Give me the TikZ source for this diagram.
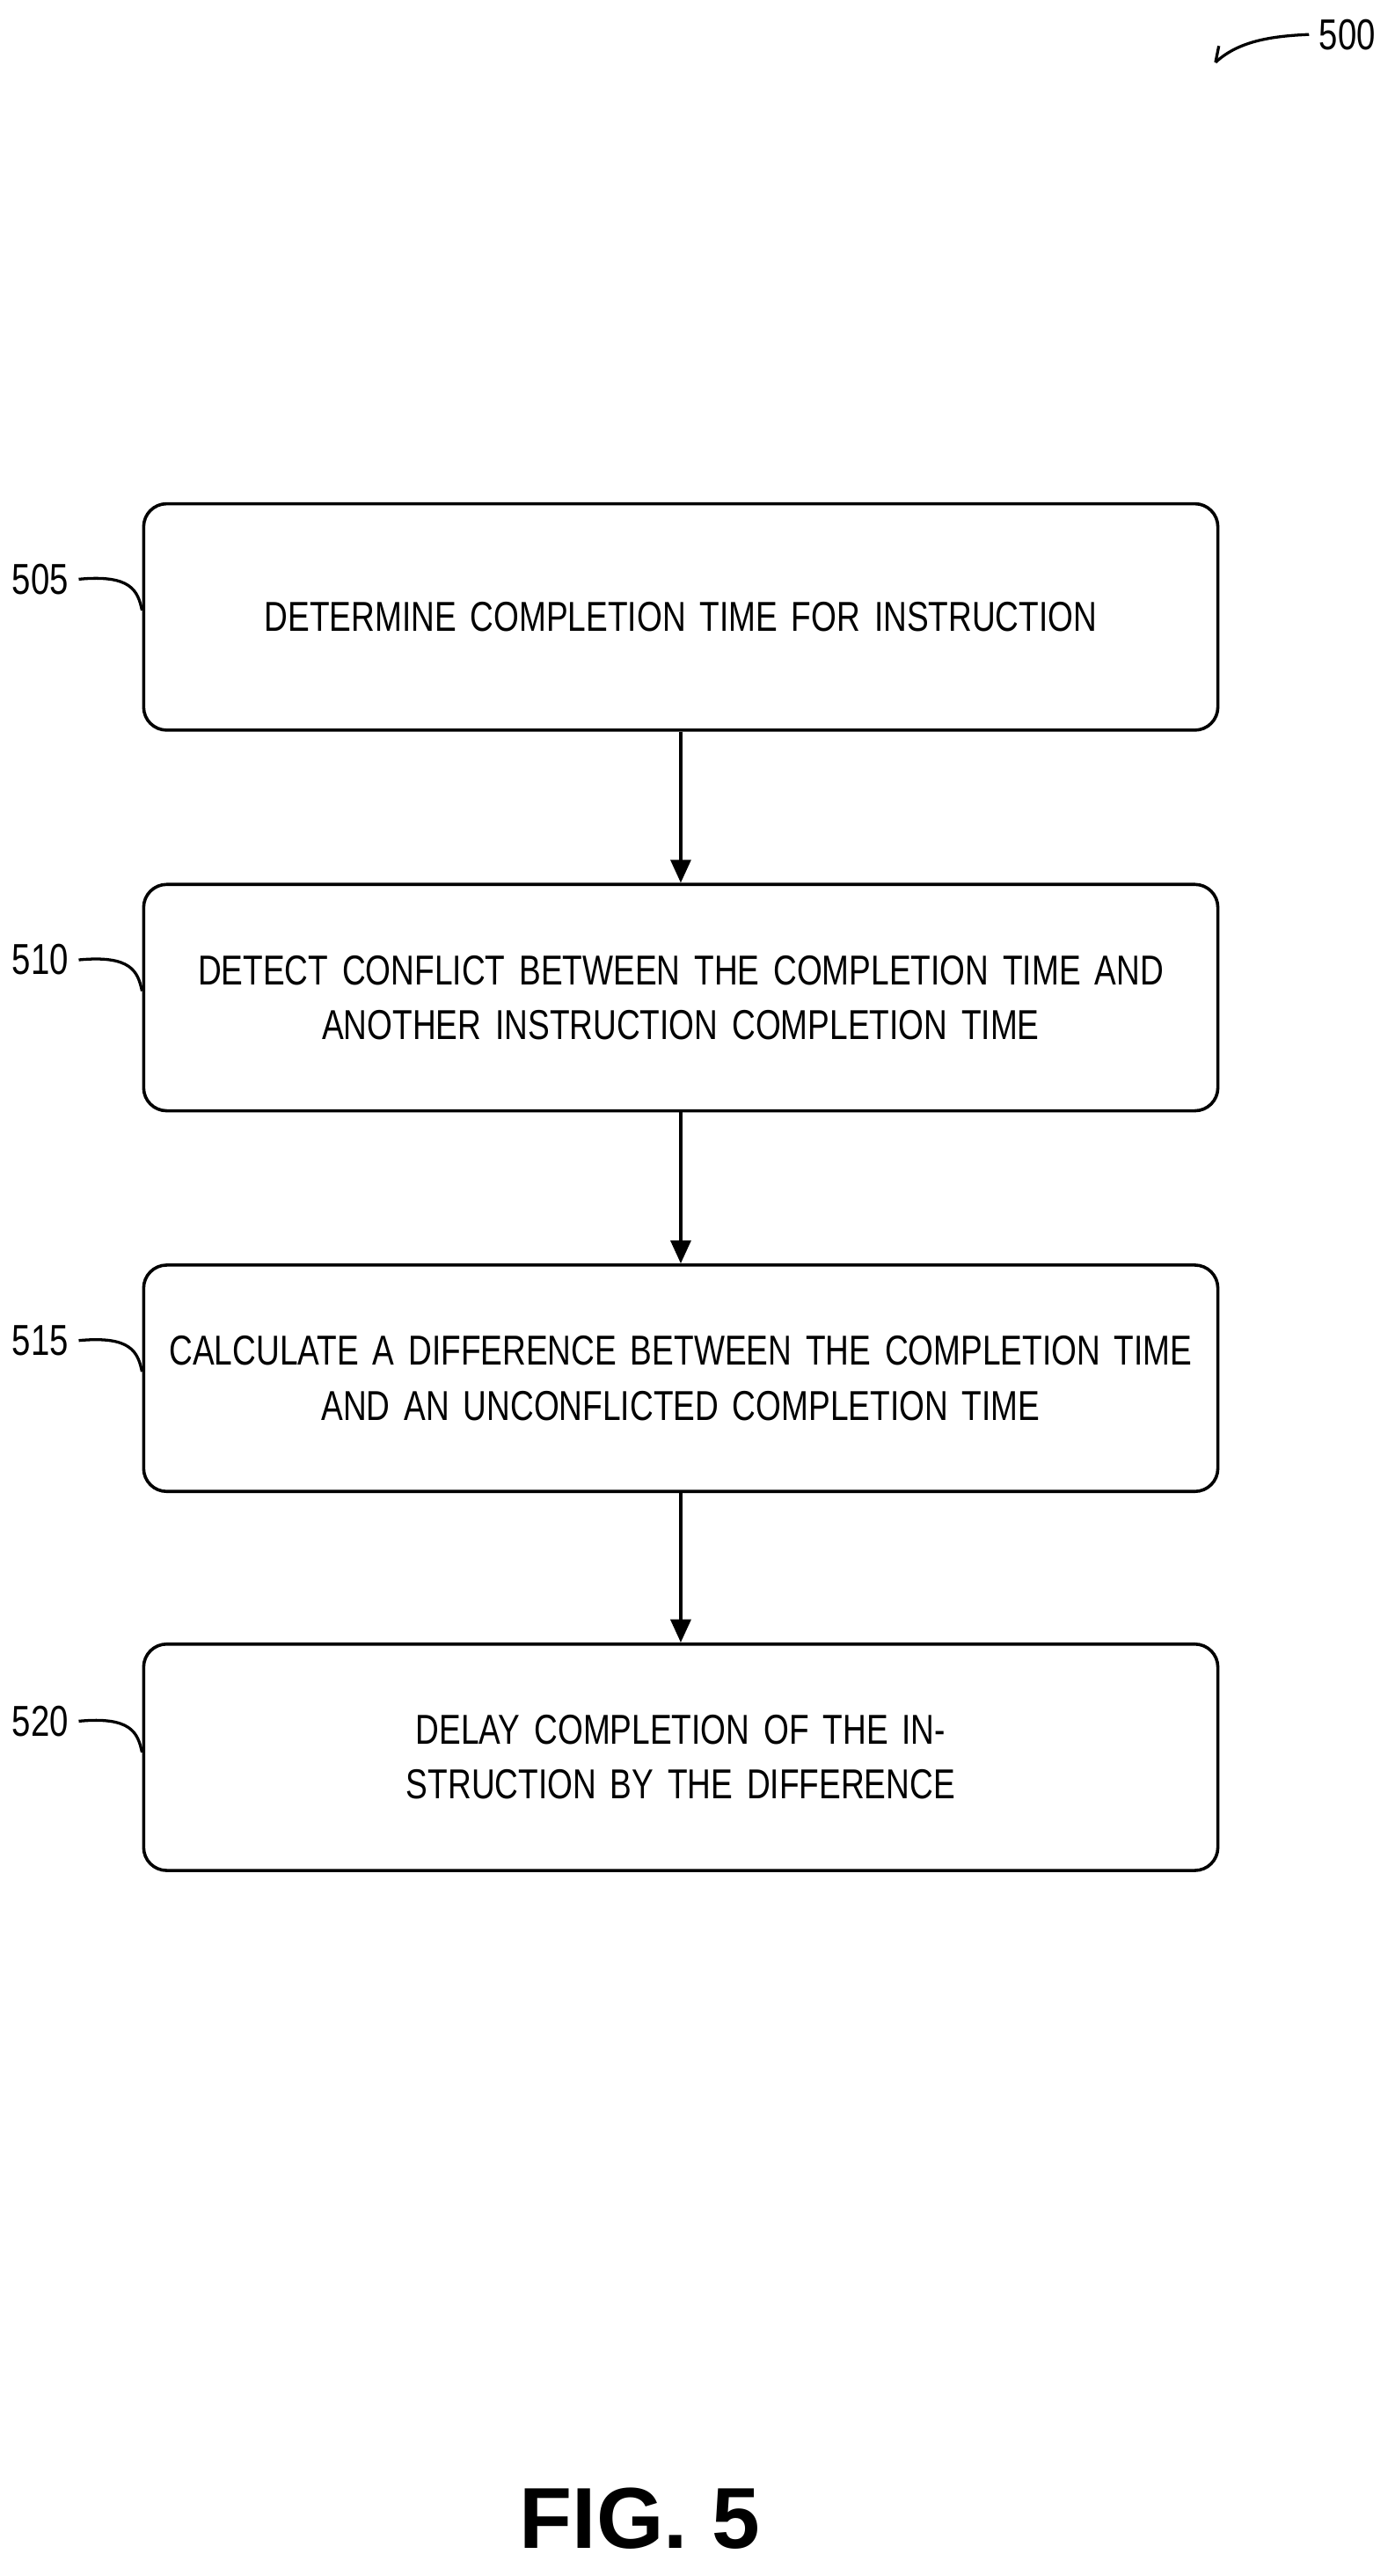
\documentclass[tikz,border=0pt]{standalone}
\usepackage{fontspec}
\setmainfont{Liberation Sans}[FakeStretch=0.78]
\usetikzlibrary{positioning,arrows.meta}

\begin{document}
\begin{tikzpicture}[
    x=0.02cm, y=-0.02cm,
    stepbox/.style={rectangle, rounded corners=8pt, draw, line width=1.1pt, minimum width=13.1cm, text width=12.9cm, inner xsep=1pt, minimum height=2.76cm, align=center, font=\fontsize{14.5}{19}\selectfont},
    num/.style={font=\fontsize{15}{18}\selectfont, anchor=east},
    lead/.style={line width=1pt},
    flow/.style={-{Triangle[length=8pt,width=7pt]}, line width=1.1pt}
]
\useasboundingbox (0,0) rectangle (850,1570);

% Steps
\node[stepbox] (determine) at (415,376) {DETERMINE COMPLETION TIME FOR INSTRUCTION};
\node[stepbox] (detect) at (415,608) {DETECT CONFLICT BETWEEN THE COMPLETION TIME AND\\ANOTHER INSTRUCTION COMPLETION TIME};
\node[stepbox] (calc) at (415,840) {CALCULATE A DIFFERENCE BETWEEN THE COMPLETION TIME\\AND AN UNCONFLICTED COMPLETION TIME};
\node[stepbox] (delay) at (415,1071) {DELAY COMPLETION OF THE INSTRUCTION BY THE DIFFERENCE};

% Reference numerals
\node[num] (n505) at (48,353) {505};
\node[num] (n510) at (48,585) {510};
\node[num] (n515) at (48,817) {515};
\node[num] (n520) at (48,1049) {520};
\draw[lead] (n505.east) .. controls (80,350) and (84,360) .. (determine.west |- 0,372);
\draw[lead] (n510.east) .. controls (80,582) and (84,592) .. (detect.west |- 0,604);
\draw[lead] (n515.east) .. controls (80,814) and (84,824) .. (calc.west |- 0,836);
\draw[lead] (n520.east) .. controls (80,1046) and (84,1056) .. (delay.west |- 0,1068);

% Figure numeral
\node[font=\fontsize{15}{18}\selectfont, anchor=west] (n500) at (798,21) {500};
\coordinate (tip) at (741,38);
\draw[lead] (n500.west) .. controls (775,22) and (755,25) .. (tip);
\draw[lead] (tip) -- ++(2,-10);

% Flow
\draw[flow] (determine) -- (detect);
\draw[flow] (detect) -- (calc);
\draw[flow] (calc) -- (delay);

\node[font=\fontsize{30}{36}\selectfont\bfseries\addfontfeature{FakeStretch=1}] (fig) at (390,1535) {FIG. 5};
\end{tikzpicture}
\end{document}
